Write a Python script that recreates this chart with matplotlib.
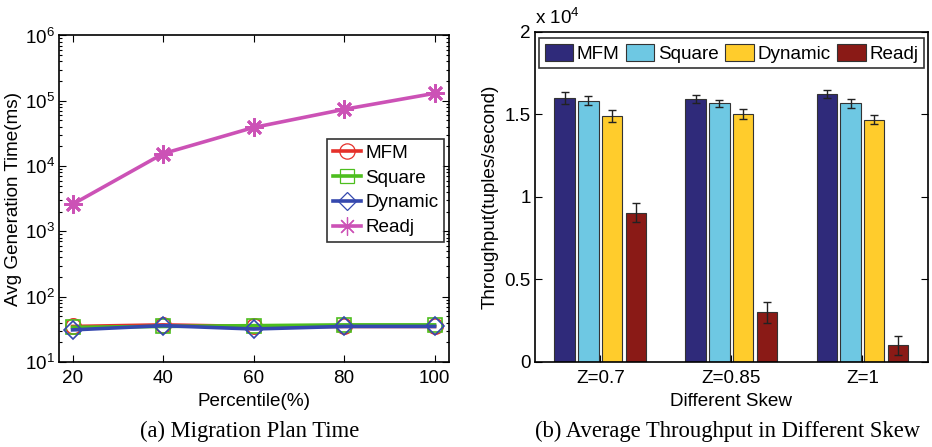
import matplotlib
matplotlib.use("Agg")
import matplotlib.pyplot as plt
import numpy as np
from matplotlib.ticker import FuncFormatter, LogLocator, NullFormatter

# --- Data ---
PERCENTILES = [20, 40, 60, 80, 100]
GEN_MFM = [35, 37, 35, 35, 35]
GEN_SQUARE = [34, 35, 36, 37, 37]
GEN_DYNAMIC = [31, 36, 32, 35, 35]
GEN_READJ = [2600, 15500, 39000, 74000, 130000]

SKEWS = ["Z=0.7", "Z=0.85", "Z=1"]
TP_MFM = [15970, 15910, 16210]
TP_SQUARE = [15830, 15650, 15650]
TP_DYNAMIC = [14880, 15000, 14660]
TP_READJ = [9040, 3020, 1000]
ERR_MFM = [380, 250, 230]
ERR_SQUARE = [260, 240, 270]
ERR_DYNAMIC = [380, 300, 280]
ERR_READJ = [560, 630, 570]

# --- Style ---
FONT = "Liberation Sans"
FS = 13.6
plt.rcParams['font.family'] = FONT
plt.rcParams['mathtext.fontset'] = 'custom'
plt.rcParams['mathtext.rm'] = FONT
plt.rcParams['mathtext.it'] = FONT
plt.rcParams['axes.linewidth'] = 1.2

LINE_COLORS = ['#E5302A', '#4DBE1E', '#3548AE', '#CC52B6']
LINE_MARKERS = ['o', 's', 'D', (8, 2, 0)]  # last one: MATLAB-like asterisk
BAR_COLORS = ['#2F2A7A', '#6EC8E3', '#FFCC2C', '#8A1A16']
NAMES = ["MFM", "Square", "Dynamic", "Readj"]


def style_ticks(ax):
    ax.tick_params(which='both', direction='in', top=True, right=True,
                   labelsize=FS, width=0.8)
    ax.tick_params(which='major', length=5)
    ax.tick_params(which='minor', length=2.5)


fig = plt.figure(figsize=(9.32, 4.47), dpi=100)

# --- (a) Migration plan time ---
ax1 = fig.add_axes([0.0633, 0.1902, 0.4185, 0.7304])
series = [GEN_MFM, GEN_SQUARE, GEN_DYNAMIC, GEN_READJ]
for vals, name, col, mk in zip(series, NAMES, LINE_COLORS, LINE_MARKERS):
    ms = {'o': 11, 's': 10, 'D': 9}.get(mk, 13)
    mew = 2.0 if name == "Readj" else 1.2
    ax1.plot(PERCENTILES, vals, color=col, lw=2.6, marker=mk, ms=ms,
             mfc='none', mec=col, mew=mew, label=name)
ax1.set_yscale('log')
ax1.set_xlim(17, 103.2)
ax1.set_ylim(10, 1e6)
ax1.set_xticks(PERCENTILES)
ax1.yaxis.set_major_locator(LogLocator(base=10, numticks=10))
ax1.yaxis.set_minor_locator(LogLocator(base=10, subs=np.arange(2, 10), numticks=10))
ax1.yaxis.set_minor_formatter(NullFormatter())
style_ticks(ax1)
ax1.tick_params(axis='x', pad=6)
ax1.tick_params(axis='y', pad=3)
ax1.set_xlabel("Percentile(%)", fontsize=FS, labelpad=4)
ax1.set_ylabel("Avg Generation Time(ms)", fontsize=FS, labelpad=2)
leg1 = ax1.legend(loc='upper right', bbox_to_anchor=(0.987, 0.683), fontsize=FS,
                  frameon=True, fancybox=False, edgecolor='black',
                  handlelength=1.5, handletextpad=0.2, borderpad=0.3,
                  labelspacing=0.4, borderaxespad=0.0)
leg1.get_frame().set_linewidth(1.2)
for h in leg1.legend_handles:
    h.set_markeredgewidth(0.9)

# --- (b) Average throughput ---
ax2 = fig.add_axes([0.574, 0.1902, 0.4217, 0.739])
x = np.arange(1, len(SKEWS) + 1)
spacing = 0.183
width = 0.153
tps = [TP_MFM, TP_SQUARE, TP_DYNAMIC, TP_READJ]
errs = [ERR_MFM, ERR_SQUARE, ERR_DYNAMIC, ERR_READJ]
for i, (vals, err, name, col) in enumerate(zip(tps, errs, NAMES, BAR_COLORS)):
    pos = x + (i - 1.5) * spacing
    ax2.bar(pos, vals, width=width, color=col, edgecolor='#333333',
            linewidth=0.8, label=name)
    ax2.errorbar(pos, vals, yerr=err, fmt='none', ecolor='#222222',
                 elinewidth=1.0, capsize=3, capthick=1.0)
ax2.set_xlim(0.5, 3.5)
ax2.set_ylim(0, 20000)
ax2.set_xticks(x)
ax2.set_xticklabels(SKEWS)
ax2.set_yticks([0, 5000, 10000, 15000, 20000])
ax2.yaxis.set_major_formatter(FuncFormatter(lambda v, p: "%g" % (v / 1e4)))
style_ticks(ax2)
ax2.tick_params(axis='x', top=False, pad=6)
ax2.tick_params(axis='y', pad=3)
ax2.set_xlabel("Different Skew", fontsize=FS, labelpad=4)
ax2.set_ylabel("Throughput(tuples/second)", fontsize=FS, labelpad=4)
ax2.text(0.0, 1.012, r"x 10$^{4}$", transform=ax2.transAxes, fontsize=FS,
         ha='left', va='bottom')
leg2 = ax2.legend(loc='upper center', ncol=4, fontsize=FS, frameon=True,
                  fancybox=False, edgecolor='black', handlelength=1.5,
                  handleheight=1.05, handletextpad=0.2, columnspacing=0.35,
                  borderpad=0.3, borderaxespad=0.33)
leg2.get_frame().set_linewidth(1.2)

# --- captions ---
fig.text(0.268, 0.036, "(a) Migration Plan Time", family="Liberation Serif",
         fontsize=16.3, ha='center', va='center')
fig.text(0.781, 0.036, "(b) Average Throughput in Different Skew",
         family="Liberation Serif", fontsize=16.3, ha='center', va='center')

fig.savefig("out.png", dpi=100)
